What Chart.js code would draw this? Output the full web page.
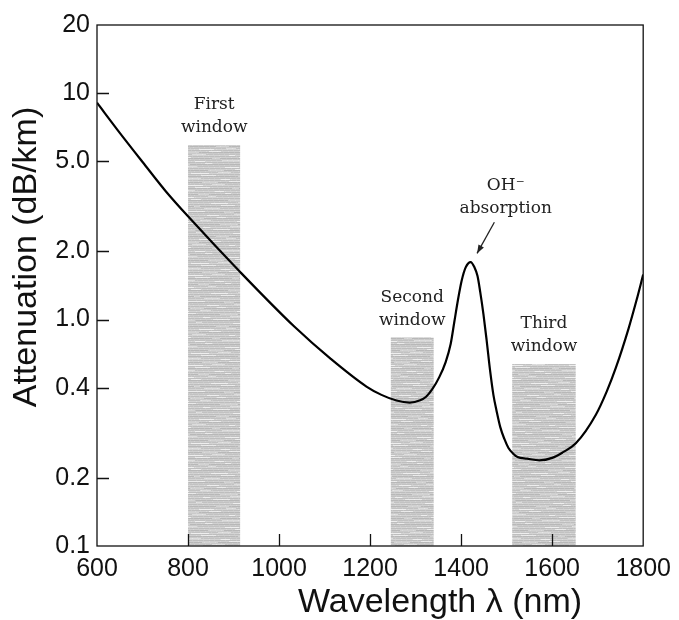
<!DOCTYPE html>
<html>
<head>
<meta charset="utf-8">
<script src="https://cdn.jsdelivr.net/npm/chart.js@4"></script>
<style>
  html, body { margin: 0; padding: 0; background: #fff; }
  canvas { display: block; }
</style>
</head>
<body>
<canvas id="lossChart" width="679" height="620"></canvas>
<script>
// fibre loss spectrum
var wavelengths = [600, 650, 701, 751, 804, 914, 1034, 1113, 1192, 1225,
    1258, 1287, 1310, 1323, 1337, 1352, 1366, 1377, 1385, 1393,
    1401, 1410, 1421, 1429, 1436, 1442, 1449, 1456, 1464, 1471,
    1478, 1486, 1495, 1504, 1515, 1524, 1545, 1572, 1600, 1623,
    1652, 1696, 1720, 1740, 1768, 1785, 1800];
var attenuation = [9.07, 6.68, 4.94, 3.69, 2.80, 1.626, 0.929, 0.672, 0.506, 0.465,
    0.439, 0.430, 0.44, 0.456, 0.494, 0.557, 0.649, 0.780, 0.976, 1.22,
    1.48, 1.70, 1.795, 1.706, 1.557, 1.323, 1.058, 0.812, 0.587, 0.464,
    0.394, 0.335, 0.297, 0.271, 0.255, 0.247, 0.243, 0.239, 0.245, 0.259,
    0.284, 0.380, 0.482, 0.613, 0.915, 1.21, 1.58];

// transmission windows
var windowNames = [["First", "window"], ["Second", "window"], ["Third", "window"]];
var windowStart = [800, 1245, 1512];
var windowEnd = [915, 1340, 1652];
var windowTop = [5.9, 0.835, 0.637];

// axes
var xTickValues = [600, 800, 1000, 1200, 1400, 1600, 1800];
var xTickLabels = ["600", "800", "1000", "1200", "1400", "1600", "1800"];
var yTickValues = [0.1, 0.2, 0.5, 1, 2, 5, 10, 20];
var yTickLabels = ["0.1", "0.2", "0.4", "1.0", "2.0", "5.0", "10", "20"];

// OH- peak note: text anchor and arrow ends (nm, dB/km)
var ohText = { x: 1498, y: 3.9 };
var ohArrowFrom = { x: 1473, y: 2.69 };
var ohArrowTo = { x: 1435, y: 1.96 };

// grey scan-line fill with short pale dashes
function stripedFill() {
    var w = 64, h = 90;
    var c = document.createElement("canvas");
    c.width = w;
    c.height = h;
    var g = c.getContext("2d");
    var rows = [190, 208, 184, 202, 194, 212];
    for (var yy = 0; yy < h; yy++) {
        var off = (yy * 37) % w;
        var len = 6 + (yy * 5) % 13;
        for (var xx = 0; xx < w; xx++) {
            var v = rows[yy % rows.length];
            if (yy % 3 !== 0 && (xx - off + w) % w < len) v += 26;
            if ((xx * 7 + yy * 13) % 11 === 0) v += 10;
            if (v > 240) v = 240;
            g.fillStyle = "rgb(" + v + "," + v + "," + v + ")";
            g.fillRect(xx, yy, 1, 1);
        }
    }
    return g.createPattern(c, "repeat");
}

document.addEventListener("DOMContentLoaded", function () {
    var ctx = document.getElementById("lossChart").getContext("2d");
    var bandFill = stripedFill();

    var datasets = windowNames.map(function (name, i) {
        return {
            label: name.join(" "),
            data: [
                { x: windowStart[i], y: windowTop[i] },
                { x: windowEnd[i], y: windowTop[i] }
            ],
            borderWidth: 0,
            pointRadius: 0,
            backgroundColor: bandFill,
            fill: "start",
            order: 2
        };
    });
    datasets.push({
        label: "Attenuation",
        data: wavelengths.map(function (w, i) { return { x: w, y: attenuation[i] }; }),
        borderColor: "#000",
        borderWidth: 2.2,
        pointRadius: 0,
        fill: false,
        cubicInterpolationMode: "monotone",
        order: 1
    });

    var decorations = {
        id: "decorations",
        afterDraw: function (chart) {
            var c = chart.ctx, a = chart.chartArea, x = chart.scales.x, y = chart.scales.y;
            c.save();

            // frame + inward ticks
            c.strokeStyle = "#111";
            c.lineWidth = 1.3;
            c.strokeRect(a.left, a.top, a.right - a.left, a.bottom - a.top);
            c.beginPath();
            xTickValues.slice(1, -1).forEach(function (v) {
                var px = Math.round(x.getPixelForValue(v)) + 0.5;
                c.moveTo(px, a.bottom);
                c.lineTo(px, a.bottom - 12);
            });
            yTickValues.slice(1, -1).forEach(function (v) {
                var py = Math.round(y.getPixelForValue(v)) + 0.5;
                c.moveTo(a.left, py);
                c.lineTo(a.left + 12, py);
            });
            c.stroke();

            // window captions
            c.font = '17px "DejaVu Serif"';
            c.fillStyle = "#222";
            c.textAlign = "center";
            c.textBaseline = "middle";
            windowNames.forEach(function (lines, i) {
                var cx = x.getPixelForValue((windowStart[i] + windowEnd[i]) / 2);
                var top = y.getPixelForValue(windowTop[i]);
                c.fillText(lines[0], cx, top - 40);
                c.fillText(lines[1], cx, top - 17);
            });

            // OH- absorption note
            var ox = x.getPixelForValue(ohText.x), oy = y.getPixelForValue(ohText.y);
            c.fillText("OH\u207B", ox, oy);
            c.fillText("absorption", ox, oy + 23);
            var x1 = x.getPixelForValue(ohArrowFrom.x), y1 = y.getPixelForValue(ohArrowFrom.y);
            var x2 = x.getPixelForValue(ohArrowTo.x), y2 = y.getPixelForValue(ohArrowTo.y);
            c.strokeStyle = "#222";
            c.lineWidth = 1.3;
            c.beginPath();
            c.moveTo(x1, y1);
            c.lineTo(x2, y2);
            c.stroke();
            var ang = Math.atan2(y2 - y1, x2 - x1);
            c.beginPath();
            c.moveTo(x2, y2);
            c.lineTo(x2 - 9 * Math.cos(ang - 0.35), y2 - 9 * Math.sin(ang - 0.35));
            c.lineTo(x2 - 9 * Math.cos(ang + 0.35), y2 - 9 * Math.sin(ang + 0.35));
            c.closePath();
            c.fillStyle = "#222";
            c.fill();

            // axis titles
            c.fillStyle = "#111";
            c.font = '34px "Liberation Sans"';
            c.textAlign = "center";
            c.textBaseline = "alphabetic";
            c.fillText("Wavelength \u03BB (nm)", 440, 612);
            c.translate(27, 257);
            c.rotate(-Math.PI / 2);
            c.textBaseline = "middle";
            c.fillText("Attenuation (dB/km)", 0, 0);
            c.restore();
        }
    };

    new Chart(ctx, {
        type: "line",
        data: { datasets: datasets },
        options: {
            responsive: false,
            animation: false,
            devicePixelRatio: 1,
            layout: { padding: { left: 0, top: 25, right: 35, bottom: 0 } },
            plugins: {
                legend: { display: false },
                tooltip: { enabled: false }
            },
            scales: {
                x: {
                    type: "linear",
                    min: 600,
                    max: 1800,
                    grid: { display: false, drawTicks: false },
                    border: { display: false },
                    afterBuildTicks: function (s) {
                        s.ticks = xTickValues.map(function (v) { return { value: v }; });
                    },
                    afterFit: function (s) { s.height = 74; },
                    ticks: {
                        autoSkip: false,
                        maxRotation: 0,
                        padding: 8,
                        color: "#111",
                        font: { family: "Liberation Sans", size: 25 },
                        callback: function (value, index) { return xTickLabels[index]; }
                    }
                },
                y: {
                    type: "logarithmic",
                    min: 0.1,
                    max: 20,
                    grid: { display: false, drawTicks: false },
                    border: { display: false },
                    afterBuildTicks: function (s) {
                        s.ticks = yTickValues.map(function (v) { return { value: v }; });
                    },
                    afterFit: function (s) { s.width = 97; },
                    ticks: {
                        autoSkip: false,
                        padding: 7,
                        color: "#111",
                        font: { family: "Liberation Sans", size: 25 },
                        callback: function (value, index) { return yTickLabels[index]; }
                    }
                }
            }
        },
        plugins: [decorations]
    });
});
</script>
</body>
</html>
